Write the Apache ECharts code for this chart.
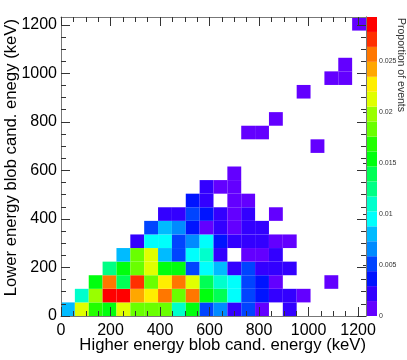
<!DOCTYPE html>
<html>
<head>
<meta charset="utf-8">
<script src="https://cdn.jsdelivr.net/npm/echarts@6/dist/echarts.min.js"></script>
<style>
  html, body { margin: 0; padding: 0; background: #fff; }
  #chart { width: 407px; height: 360px; }
</style>
</head>
<body>
<div id="chart"></div>
<script>
// bin size of the histogram (keV), both axes 0..1232 with 22 bins
const binWidth = 56
const axisMax = 1232
const zMax = 0.0293

const majorTicks = [0, 200, 400, 600, 800, 1000, 1200]
const minorTicks = [0, 50, 100, 150, 200, 250, 300, 350, 400, 450, 500, 550, 600,
  650, 700, 750, 800, 850, 900, 950, 1000, 1050, 1100, 1150, 1200]
const zTicks = [0, 0.005, 0.01, 0.015, 0.02, 0.025]

// ROOT "pretty" palette, 20 contour levels, from low to high
const paletteColors = [
  '#6300ff', '#3300ff', '#0014ff', '#0044ff', '#008bff', '#00bbff', '#00fffc',
  '#00ffcc', '#00ff85', '#00ff55', '#00ff0e', '#22ff00', '#69ff00', '#99ff00',
  '#e0ff00', '#ffee00', '#ffa700', '#ff7700', '#ff3000', '#ff0000'
]

// [x bin, y bin, proportion of events]
const cells = [
  // y bin 0
  [0, 0, 0.0081], [1, 0, 0.0212], [2, 0, 0.0168], [3, 0, 0.0154], [4, 0, 0.0212],
  [5, 0, 0.0183], [6, 0, 0.0183], [7, 0, 0.0183], [8, 0, 0.0110], [9, 0, 0.0154],
  [10, 0, 0.0051], [11, 0, 0.0066], [12, 0, 0.0022], [13, 0, 0.0051], [14, 0, 0.0007],
  [16, 0, 0.0022],
  // y bin 1
  [1, 1, 0.0110], [2, 1, 0.0198], [3, 1, 0.0286], [4, 1, 0.0286], [5, 1, 0.0242],
  [6, 1, 0.0227], [7, 1, 0.0256], [8, 1, 0.0183], [9, 1, 0.0256], [10, 1, 0.0154],
  [11, 1, 0.0139], [12, 1, 0.0095], [13, 1, 0.0051], [14, 1, 0.0037], [15, 1, 0.0022],
  [16, 1, 0.0022], [17, 1, 0.0007],
  // y bin 2
  [2, 2, 0.0154], [3, 2, 0.0256], [4, 2, 0.0139], [5, 2, 0.0271], [6, 2, 0.0183],
  [7, 2, 0.0227], [8, 2, 0.0256], [9, 2, 0.0212], [10, 2, 0.0139], [11, 2, 0.0110],
  [12, 2, 0.0095], [13, 2, 0.0051], [14, 2, 0.0037], [15, 2, 0.0007], [19, 2, 0.0007],
  // y bin 3
  [3, 3, 0.0125], [4, 3, 0.0154], [5, 3, 0.0183], [6, 3, 0.0212], [7, 3, 0.0154],
  [8, 3, 0.0154], [9, 3, 0.0051], [10, 3, 0.0095], [11, 3, 0.0081], [12, 3, 0.0022],
  [13, 3, 0.0051], [14, 3, 0.0022], [15, 3, 0.0022], [16, 3, 0.0022],
  // y bin 4
  [4, 4, 0.0081], [5, 4, 0.0183], [6, 4, 0.0212], [7, 4, 0.0081], [8, 4, 0.0051],
  [9, 4, 0.0095], [10, 4, 0.0110], [11, 4, 0.0022], [13, 4, 0.0007], [14, 4, 0.0007],
  [15, 4, 0.0022],
  // y bin 5
  [5, 5, 0.0022], [6, 5, 0.0095], [7, 5, 0.0095], [8, 5, 0.0051], [9, 5, 0.0066],
  [10, 5, 0.0095], [11, 5, 0.0037], [12, 5, 0.0022], [13, 5, 0.0022], [14, 5, 0.0022],
  [15, 5, 0.0007], [16, 5, 0.0007],
  // y bin 6
  [6, 6, 0.0051], [7, 6, 0.0081], [8, 6, 0.0066], [9, 6, 0.0037], [10, 6, 0.0007],
  [11, 6, 0.0022], [12, 6, 0.0007], [13, 6, 0.0022], [14, 6, 0.0022],
  // y bin 7
  [7, 7, 0.0022], [8, 7, 0.0022], [9, 7, 0.0051], [10, 7, 0.0037], [11, 7, 0.0022],
  [12, 7, 0.0007], [13, 7, 0.0022], [15, 7, 0.0007],
  // y bin 8..21
  [9, 8, 0.0037], [10, 8, 0.0022], [12, 8, 0.0007], [13, 8, 0.0007],
  [10, 9, 0.0022], [11, 9, 0.0007], [12, 9, 0.0007],
  [12, 10, 0.0007],
  [18, 12, 0.0007],
  [13, 13, 0.0007], [14, 13, 0.0007],
  [15, 14, 0.0007],
  [17, 16, 0.0007],
  [19, 17, 0.0007], [20, 17, 0.0007],
  [20, 18, 0.0007],
  [21, 21, 0.0007]
]

const fontFamily = 'Liberation Sans'
const frameColor = '#777'
const tickColor = '#333'
const levelStep = zMax / paletteColors.length
const frameRect = { left: 61, top: 17, width: 305, height: 299, outerBoundsMode: 'none' }

// every side of the frame: one grid for the long ticks, one for the short ones
function frameAxis(gridIndex, position, major, showLabel) {
  return {
    type: 'value',
    gridIndex: gridIndex,
    position: position,
    min: 0,
    max: axisMax,
    z: 5,
    splitLine: { show: false },
    axisLine: { show: major, onZero: false, lineStyle: { color: frameColor } },
    axisTick: {
      show: true,
      inside: true,
      length: major ? 9 : 5,
      lineStyle: { color: tickColor },
      customValues: major ? majorTicks : minorTicks
    },
    axisLabel: {
      show: showLabel,
      customValues: majorTicks,
      formatter: v => String(v),
      fontSize: 16,
      fontFamily: fontFamily,
      color: '#000',
      margin: position === 'bottom' ? 7 : 4
    }
  }
}

const chart = echarts.init(document.getElementById('chart'))

chart.setOption({
  backgroundColor: '#fff',
  animation: false,
  grid: [
    frameRect,
    frameRect,
    frameRect,
    frameRect,
    { left: 366, top: 17, width: 11, height: 299, outerBoundsMode: 'none' }
  ],
  xAxis: [
    frameAxis(0, 'bottom', true, true),
    frameAxis(1, 'top', true, false),
    frameAxis(2, 'bottom', false, false),
    frameAxis(3, 'top', false, false),
    {
      type: 'value', gridIndex: 4, min: 0, max: 1,
      axisLine: { show: false }, axisTick: { show: false },
      axisLabel: { show: false }, splitLine: { show: false }
    }
  ],
  yAxis: [
    frameAxis(0, 'left', true, true),
    frameAxis(1, 'right', true, false),
    frameAxis(2, 'left', false, false),
    frameAxis(3, 'right', false, false),
    {
      type: 'value', gridIndex: 4, min: 0, max: zMax, position: 'right', z: 5,
      splitLine: { show: false },
      axisLine: { show: true, lineStyle: { color: frameColor } },
      axisTick: { show: true, inside: true, length: 3, lineStyle: { color: tickColor }, customValues: zTicks },
      axisLabel: {
        customValues: zTicks, formatter: v => String(v),
        fontSize: 7, fontFamily: fontFamily, color: '#333', margin: 2
      }
    }
  ],
  visualMap: {
    type: 'piecewise',
    show: false,
    seriesIndex: 0,
    dimension: 2,
    pieces: paletteColors.map((c, k) => ({ gte: k * levelStep, lt: (k + 1) * levelStep, color: c }))
  },
  graphic: [
    {
      type: 'text', x: 366, y: 345,
      style: {
        text: 'Higher energy blob cand. energy (keV)', fill: '#000',
        font: '16.7px "Liberation Sans"', textAlign: 'right', textVerticalAlign: 'middle'
      }
    },
    {
      type: 'text', x: 11, y: 19, rotation: Math.PI / 2,
      style: {
        text: 'Lower energy blob cand. enegy (keV)', fill: '#000',
        font: '16.7px "Liberation Sans"', textAlign: 'right', textVerticalAlign: 'middle'
      }
    },
    {
      type: 'text', x: 401, y: 18, rotation: -Math.PI / 2,
      style: {
        text: 'Proportion of events', fill: '#333',
        font: '10.5px "Liberation Sans"', textAlign: 'left', textVerticalAlign: 'middle'
      }
    }
  ],
  series: [
    {
      type: 'custom',
      xAxisIndex: 0,
      yAxisIndex: 0,
      z: 2,
      encode: { x: 0, y: 1 },
      data: cells,
      renderItem(params, api) {
        const x0 = api.value(0) * binWidth
        const y0 = api.value(1) * binWidth
        const p0 = api.coord([x0, y0 + binWidth])
        const p1 = api.coord([x0 + binWidth, y0])
        return {
          type: 'rect',
          shape: { x: p0[0], y: p0[1], width: p1[0] - p0[0], height: p1[1] - p0[1] },
          style: { fill: api.visual('color') }
        }
      }
    },
    {
      type: 'custom',
      xAxisIndex: 4,
      yAxisIndex: 4,
      z: 2,
      data: paletteColors.map((c, k) => [0, k * levelStep, (k + 1) * levelStep]),
      renderItem(params, api) {
        const p0 = api.coord([0, api.value(2)])
        const p1 = api.coord([1, api.value(1)])
        return {
          type: 'rect',
          shape: { x: p0[0], y: p0[1], width: p1[0] - p0[0], height: p1[1] - p0[1] },
          style: { fill: paletteColors[params.dataIndex] }
        }
      }
    }
  ]
})
</script>
</body>
</html>
